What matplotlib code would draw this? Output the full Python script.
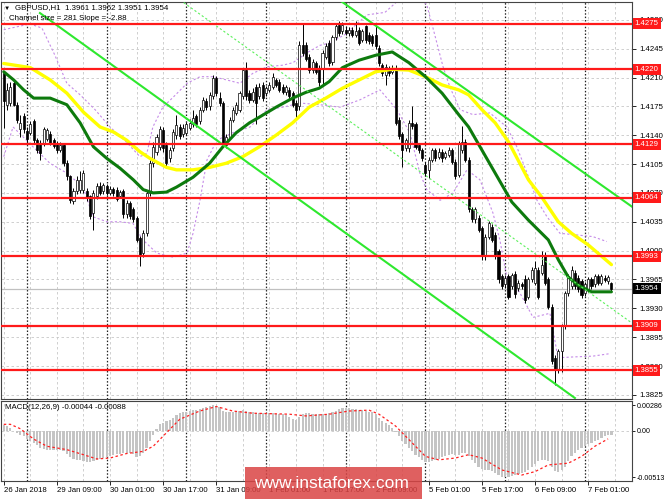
import matplotlib
matplotlib.use("Agg")
import matplotlib.pyplot as plt
from matplotlib.patches import Rectangle
import matplotlib.transforms as mtransforms

plt.rcParams['font.family'] = ['Liberation Sans', 'DejaVu Sans']

# ---------------- data (bar index = hour since 26 Jan 17:00, weekend skipped) ----------------
opens = [1.4215,1.4177,1.4179,1.4203,1.4177,1.4147,1.4163,1.4145,1.4143,1.4157,
         1.4134,1.4130,1.4130,1.4136,1.4141,1.4134,1.4130,1.4122,1.4128,1.4106,
         1.4090,1.4060,1.4072,1.4074,1.4074,1.4072,1.4066,1.4046,1.4066,1.4078,
         1.4072,1.4078,1.4070,1.4075,1.4074,1.4066,1.4072,1.4044,1.4058,1.4050,
         1.4040,1.4015,1.3997,1.4021,1.4070,1.4106,1.4120,1.4126,1.4146,1.4128,
         1.4112,1.4125,1.4140,1.4150,1.4141,1.4143,1.4149,1.4153,1.4163,1.4157,
         1.4171,1.4182,1.4175,1.4187,1.4209,1.4185,1.4179,1.4128,1.4138,1.4159,
         1.4167,1.4171,1.4187,1.4219,1.4191,1.4183,1.4199,1.4187,1.4201,1.4191,
         1.4195,1.4199,1.4207,1.4205,1.4199,1.4192,1.4195,1.4191,1.4179,1.4175,
         1.4250,1.4250,1.4235,1.4219,1.4227,1.4222,1.4221,1.4235,1.4252,1.4229,
         1.4259,1.4274,1.4266,1.4268,1.4264,1.4268,1.4262,1.4268,1.4256,1.4272,
         1.4262,1.4260,1.4262,1.4246,1.4225,1.4213,1.4221,1.4217,1.4222,1.4159,
         1.4141,1.4124,1.4124,1.4155,1.4153,1.4128,1.4122,1.4104,1.4098,1.4110,
         1.4122,1.4114,1.4120,1.4114,1.4116,1.4122,1.4108,1.4092,1.4122,1.4132,
         1.4110,1.4050,1.4038,1.4040,1.4027,1.3993,1.4017,1.4029,1.4019,1.3999,
         1.3969,1.3959,1.3969,1.3957,1.3972,1.3955,1.3959,1.3966,1.3944,1.3965,
         1.3961,1.3977,1.3973,1.3993,1.3965,1.3932,1.3870,1.3856,1.3878,1.3908,
         1.3948,1.3957,1.3973,1.3967,1.3963,1.3948,1.3953,1.3965,1.3959,1.3969,
         1.3961,1.3967,1.3963,1.3961]
highs = [1.4217,1.4203,1.4205,1.4207,1.4180,1.4165,1.4167,1.4150,1.4157,1.4160,
         1.4137,1.4134,1.4150,1.4149,1.4145,1.4137,1.4133,1.4132,1.4131,1.4110,
         1.4092,1.4076,1.4090,1.4096,1.4098,1.4076,1.4068,1.4073,1.4082,1.4083,
         1.4082,1.4081,1.4078,1.4077,1.4077,1.4074,1.4075,1.4061,1.4060,1.4053,
         1.4042,1.4018,1.4025,1.4073,1.4110,1.4132,1.4142,1.4151,1.4150,1.4132,
         1.4126,1.4147,1.4165,1.4154,1.4153,1.4156,1.4160,1.4171,1.4166,1.4174,
         1.4186,1.4185,1.4192,1.4213,1.4212,1.4192,1.4182,1.4141,1.4162,1.4174,
         1.4180,1.4194,1.4222,1.4229,1.4195,1.4197,1.4202,1.4203,1.4205,1.4200,
         1.4204,1.4215,1.4210,1.4208,1.4202,1.4201,1.4198,1.4194,1.4183,1.4254,
         1.4276,1.4253,1.4238,1.4233,1.4230,1.4225,1.4243,1.4252,1.4256,1.4262,
         1.4276,1.4278,1.4277,1.4272,1.4271,1.4271,1.4278,1.4271,1.4269,1.4274,
         1.4265,1.4263,1.4274,1.4249,1.4228,1.4226,1.4224,1.4225,1.4225,1.4162,
         1.4144,1.4137,1.4158,1.4175,1.4156,1.4131,1.4125,1.4107,1.4113,1.4125,
         1.4125,1.4124,1.4123,1.4121,1.4126,1.4125,1.4111,1.4133,1.4151,1.4135,
         1.4113,1.4053,1.4053,1.4043,1.4030,1.4020,1.4036,1.4032,1.4022,1.4002,
         1.3972,1.3971,1.3972,1.3973,1.3975,1.3964,1.3962,1.3970,1.3968,1.3980,
         1.3987,1.3980,1.3999,1.3998,1.3968,1.3935,1.3873,1.3881,1.3911,1.3951,
         1.3972,1.3981,1.3976,1.3970,1.3966,1.3962,1.3968,1.3968,1.3972,1.3972,
         1.3972,1.3971,1.3971,1.3962]
lows = [1.4149,1.4171,1.4175,1.4175,1.4155,1.4138,1.4143,1.4132,1.4140,1.4130,
        1.4119,1.4110,1.4127,1.4133,1.4128,1.4124,1.4118,1.4120,1.4103,1.4086,
        1.4058,1.4056,1.4069,1.4070,1.4070,1.4060,1.4038,1.4025,1.4063,1.4068,
        1.4069,1.4067,1.4068,1.4066,1.4060,1.4064,1.4040,1.4040,1.4038,1.4035,
        1.4010,1.3981,1.3992,1.4018,1.4066,1.4102,1.4116,1.4122,1.4120,1.4102,
        1.4108,1.4121,1.4136,1.4135,1.4138,1.4140,1.4146,1.4150,1.4150,1.4154,
        1.4168,1.4170,1.4171,1.4184,1.4187,1.4175,1.4127,1.4124,1.4135,1.4156,
        1.4164,1.4168,1.4184,1.4183,1.4179,1.4180,1.4153,1.4184,1.4182,1.4188,
        1.4192,1.4196,1.4198,1.4192,1.4190,1.4189,1.4184,1.4174,1.4160,1.4170,
        1.4236,1.4230,1.4216,1.4216,1.4214,1.4200,1.4202,1.4232,1.4224,1.4225,
        1.4256,1.4260,1.4263,1.4261,1.4260,1.4259,1.4259,1.4249,1.4253,1.4252,
        1.4251,1.4248,1.4245,1.4224,1.4212,1.4201,1.4212,1.4214,1.4152,1.4136,
        1.4102,1.4121,1.4120,1.4148,1.4123,1.4119,1.4109,1.4090,1.4088,1.4107,
        1.4109,1.4111,1.4108,1.4111,1.4113,1.4105,1.4087,1.4089,1.4119,1.4107,
        1.4047,1.4035,1.4034,1.4022,1.3989,1.3989,1.4014,1.4010,1.3990,1.3961,
        1.3953,1.3955,1.3941,1.3953,1.3942,1.3951,1.3954,1.3937,1.3941,1.3962,
        1.3958,1.3941,1.3970,1.3958,1.3929,1.3862,1.3837,1.3852,1.3853,1.3905,
        1.3945,1.3953,1.3954,1.3950,1.3943,1.3945,1.3950,1.3954,1.3956,1.3958,
        1.3958,1.3962,1.3960,1.3951]
closes = [1.4181,1.4195,1.4199,1.4177,1.4159,1.4155,1.4147,1.4136,1.4153,1.4134,
          1.4122,1.4118,1.4147,1.4146,1.4131,1.4127,1.4122,1.4128,1.4106,1.4090,
          1.4062,1.4072,1.4086,1.4086,1.4094,1.4064,1.4042,1.4070,1.4078,1.4070,
          1.4079,1.4070,1.4075,1.4070,1.4063,1.4071,1.4044,1.4058,1.4042,1.4038,
          1.4013,1.3993,1.4021,1.4070,1.4106,1.4126,1.4138,1.4148,1.4125,1.4106,
          1.4122,1.4144,1.4152,1.4139,1.4149,1.4153,1.4155,1.4161,1.4153,1.4171,
          1.4183,1.4174,1.4189,1.4209,1.4191,1.4179,1.4130,1.4138,1.4159,1.4171,
          1.4177,1.4191,1.4219,1.4187,1.4183,1.4193,1.4179,1.4199,1.4185,1.4197,
          1.4201,1.4211,1.4201,1.4195,1.4193,1.4198,1.4187,1.4177,1.4171,1.4250,
          1.4240,1.4233,1.4219,1.4229,1.4217,1.4205,1.4240,1.4248,1.4227,1.4259,
          1.4272,1.4264,1.4274,1.4264,1.4268,1.4262,1.4266,1.4252,1.4266,1.4256,
          1.4254,1.4252,1.4248,1.4227,1.4215,1.4223,1.4215,1.4222,1.4155,1.4139,
          1.4122,1.4134,1.4155,1.4151,1.4126,1.4122,1.4112,1.4094,1.4110,1.4122,
          1.4112,1.4120,1.4112,1.4118,1.4122,1.4108,1.4090,1.4130,1.4132,1.4110,
          1.4050,1.4038,1.4050,1.4025,1.3993,1.4017,1.4033,1.4013,1.3993,1.3965,
          1.3957,1.3967,1.3944,1.3970,1.3947,1.3961,1.3957,1.3940,1.3965,1.3977,
          1.3979,1.3944,1.3983,1.3961,1.3932,1.3866,1.3856,1.3878,1.3908,1.3948,
          1.3969,1.3977,1.3957,1.3953,1.3946,1.3959,1.3965,1.3957,1.3969,1.3961,
          1.3969,1.3964,1.3968,1.3954]

# moving averages (read points)
ma_slow_idx = [0, 8, 14, 19, 24, 29, 33, 37, 41, 44, 49, 52, 57, 62, 67, 72, 77, 82, 87, 92,
               97, 102, 107, 112, 117, 122, 127, 132, 137, 140, 144, 148, 152, 158, 162, 167,
               171, 176, 183]
ma_slow = [1.4227, 1.4222, 1.4207, 1.4191, 1.4168, 1.4150, 1.4144, 1.4134, 1.4120, 1.4112,
           1.4101, 1.4098, 1.4098, 1.4101, 1.4106, 1.4114, 1.4126, 1.4140, 1.4155, 1.4174,
           1.4185, 1.4197, 1.4207, 1.4217, 1.4220, 1.4219, 1.4211, 1.4201, 1.4195, 1.4189,
           1.4171, 1.4155, 1.4132, 1.4086, 1.4065, 1.4035, 1.4021, 1.4007, 1.3983]
ma_fast_idx = [0, 3, 6, 9, 14, 19, 23, 27, 31, 35, 39, 42, 45, 49, 52, 57, 62, 66, 70, 74,
               77, 82, 87, 91, 95, 98, 102, 107, 112, 117, 122, 127, 132, 137, 140, 144,
               148, 153, 158, 164, 167, 170, 173, 177, 183]
ma_fast = [1.4217, 1.4207, 1.4195, 1.4185, 1.4185, 1.4177, 1.4155, 1.4126, 1.4112, 1.4100,
           1.4086, 1.4074, 1.4070, 1.4071, 1.4077, 1.4089, 1.4106, 1.4126, 1.4143, 1.4155,
           1.4162, 1.4174, 1.4185, 1.4192, 1.4197, 1.4205, 1.4222, 1.4231, 1.4237, 1.4241,
           1.4228, 1.4211, 1.4191, 1.4165, 1.4150, 1.4122, 1.4094, 1.4059, 1.4037, 1.4013,
           1.3989, 1.3968, 1.3958, 1.3950, 1.3950]

# bands (read points)
band_up_idx = [0, 3.4, 7.9, 11.5, 15.4, 19, 23, 27.5, 32, 37.1, 41, 43.1, 44.9, 47.9, 51, 55.2,
               59.1, 63, 67.2, 71.1, 75, 79.3, 84.1, 87.1, 91.3, 95.2, 98.2, 102.7, 109.4,
               114.8, 118.4, 122.9, 127.4, 129.2, 132.3, 134.4, 137.4, 141.3, 146.4, 151.5,
               154.5, 157.6, 160.6, 163.6, 167.5, 172.6, 177.4, 181.6]
band_up = [1.4268, 1.4271, 1.4275, 1.4270, 1.4237, 1.4203, 1.4189, 1.4171, 1.4150, 1.4131,
           1.4114, 1.4118, 1.4150, 1.4174, 1.4186, 1.4203, 1.4211, 1.4211, 1.4207, 1.4203,
           1.4215, 1.4223, 1.4225, 1.4228, 1.4240, 1.4249, 1.4252, 1.4262, 1.4286, 1.4289,
           1.4302, 1.4319, 1.4298, 1.4271, 1.4223, 1.4198, 1.4171, 1.4165, 1.4167, 1.4150,
           1.4126, 1.4094, 1.4061, 1.4041, 1.4021, 1.4019, 1.4017, 1.4011]
band_lo_idx = [0, 2.8, 8.8, 13.9, 19, 23.9, 26.9, 31.1, 35, 38.9, 41.9, 46.1, 51, 55.2, 57,
               59.1, 61.2, 64.2, 69, 74.2, 79.3, 84.1, 89.2, 95.2, 101.3, 107.3, 113.3, 118.4,
               122.3, 125.3, 127.4, 131.4, 135.3, 139.5, 143.4, 147.3, 149.4, 151.5, 155.4,
               159.4, 164.5, 166.9, 171.4, 177.4, 182.5]
band_lo = [1.4114, 1.4150, 1.4126, 1.4106, 1.4094, 1.4077, 1.4041, 1.4035, 1.4035, 1.4033,
           1.4013, 1.3997, 1.3992, 1.3997, 1.4021, 1.4061, 1.4110, 1.4134, 1.4143, 1.4150,
           1.4171, 1.4174, 1.4179, 1.4177, 1.4174, 1.4183, 1.4195, 1.4171, 1.4143, 1.4094,
           1.4074, 1.4061, 1.4070, 1.4098, 1.4086, 1.4046, 1.4013, 1.3968, 1.3949, 1.3919,
           1.3924, 1.3870, 1.3871, 1.3872, 1.3875]

# equidistant channel (anchor bar, price)
chan_lower_idx = [10.9, 172.0]
chan_lower = [1.42882, 1.38212]
chan_upper_idx = [101.8, 189.2]
chan_upper = [1.43020, 1.40533]
chan_mid_idx = [53.1, 189.2]
chan_mid = [1.43040, 1.39121]

levels = [1.4275, 1.4220, 1.4129, 1.4064, 1.3993, 1.3909, 1.3855]
last_price = 1.3954
price_ticks = [1.3825, 1.3860, 1.3895, 1.3930, 1.3965, 1.4000, 1.4035, 1.4070,
               1.4105, 1.4140, 1.4175, 1.4210, 1.4245, 1.4280]

macd_hist = [0.0006, 0.00054, 0.00036, 0.0, -0.0002, -0.0004, -0.0006, -0.0009, -0.00114, -0.00133,
             -0.0016, -0.0019, -0.0020, -0.00207, -0.00207, -0.00207, -0.00207, -0.00215, -0.00226, -0.0025,
             -0.0029, -0.0031, -0.0032, -0.00327, -0.00338, -0.0034, -0.0034, -0.0033, -0.0032, -0.0031,
             -0.0030, -0.0029, -0.00275, -0.00263, -0.00256, -0.0025, -0.00245, -0.00245, -0.00245, -0.0025,
             -0.0029, -0.00275, -0.00245, -0.0019, -0.00114, -0.0004, 0.00024, 0.00073, 0.00092, 0.0011,
             0.0012, 0.00148, 0.00174, 0.00196, 0.00204, 0.0021, 0.0022, 0.0023, 0.00234, 0.00241,
             0.0025, 0.0026, 0.00278, 0.00286, 0.00278, 0.0026, 0.0022, 0.00204, 0.00204, 0.0021,
             0.00215, 0.00219, 0.00226, 0.00219, 0.0021, 0.00204, 0.00196, 0.00196, 0.00196, 0.00196,
             0.00196, 0.00196, 0.00192, 0.00189, 0.00185, 0.00174, 0.00159, 0.00136, 0.0012, 0.00159,
             0.00185, 0.00196, 0.00196, 0.00192, 0.00189, 0.00185, 0.00189, 0.00192, 0.00196, 0.00204,
             0.0022, 0.0024, 0.0025, 0.0025, 0.0025, 0.0024, 0.0024, 0.00234, 0.00226, 0.0022,
             0.0021, 0.00204, 0.00185, 0.00148, 0.0011, 0.00084, 0.00062, 0.00036, -0.0001, -0.00058,
             -0.00114, -0.0015, -0.0019, -0.00226, -0.00263, -0.0029, -0.0032, -0.0034, -0.0034, -0.00338,
             -0.00327, -0.0031, -0.0029, -0.00275, -0.00263, -0.0025, -0.00263, -0.00263, -0.00245, -0.00245,
             -0.00275, -0.0032, -0.00357, -0.00394, -0.00424, -0.00432, -0.00432, -0.0044, -0.0046, -0.00488,
             -0.00506, -0.00513, -0.00506, -0.005, -0.00488, -0.00476, -0.0046, -0.0045, -0.00432, -0.00394,
             -0.00364, -0.00338, -0.00327, -0.0032, -0.00338, -0.00394, -0.0044, -0.0045, -0.00432, -0.00394,
             -0.00338, -0.00282, -0.00245, -0.00215, -0.0019, -0.0017, -0.0015, -0.00133, -0.00114, -0.00095,
             -0.00077, -0.00058, -0.0005, -0.00044]
signal_idx = [0, 2, 5, 9, 13, 19, 24, 28, 32, 37, 42, 45, 49, 53, 59, 64, 69, 75, 86, 91, 98,
              104, 110, 113, 118, 122, 127, 131, 136, 140, 144, 150, 156, 160, 164, 170, 174,
              178, 182]
signal = [0.00073, 0.00073, 0.00024, -0.0009, -0.0017, -0.00207, -0.00263, -0.0031, -0.0030,
          -0.0025, -0.00226, -0.0017, -0.0002, 0.00129, 0.0022, 0.0027, 0.0022, 0.00196, 0.00185,
          0.00166, 0.00185, 0.0022, 0.0023, 0.00185, 0.00054, -0.00095, -0.00282, -0.0032, -0.0030,
          -0.00263, -0.0030, -0.00432, -0.00488, -0.0045, -0.00376, -0.00357, -0.00282, -0.0017,
          -0.00088]

time_tick_idx = [0, 16, 32, 48, 64, 80, 96, 112, 128, 144, 160, 176]
time_labels = ['26 Jan 2018', '29 Jan 09:00', '30 Jan 01:00', '30 Jan 17:00', '31 Jan 09:00',
               '1 Feb 01:00', '1 Feb 17:00', '2 Feb 09:00', '5 Feb 01:00', '5 Feb 17:00',
               '6 Feb 09:00', '7 Feb 01:00']
day_start_idx = [7, 31, 55, 79, 103, 127, 151, 175]

# ---------------- figure ----------------
W, H = 665, 499
fig = plt.figure(figsize=(W / 100, H / 100), dpi=100)
fig.patch.set_facecolor('white')

def fx(px):
    return px / W

def fy(py):
    return 1 - py / H

ax = fig.add_axes([fx(1), fy(399), fx(632) - fx(1), fy(2) - fy(399)])
ax2 = fig.add_axes([fx(1), fy(481), fx(632) - fx(1), fy(401) - fy(481)], sharex=ax)

n = len(closes)
idx = list(range(n))
XMIN, XMAX = -0.83, 189.2
ax.set_xlim(XMIN, XMAX)
ax.set_ylim(1.38200, 1.43016)
ax2.set_ylim(-0.00554, 0.00331)

fs = 5.6
grid_col = '#c8c8c8'
for a in (ax, ax2):
    for s in a.spines.values():
        s.set_color('#444444')
        s.set_linewidth(0.8)
    for g in range(0, 190, 8):
        a.axvline(g, color=grid_col, lw=0.6, ls=(0, (3, 3)), zorder=0.5)
    for d in day_start_idx:
        a.axvline(d, color='#222222', lw=0.9, ls=(0, (1.2, 1.5)), zorder=0.6)

# main price grid
for p in price_ticks:
    ax.axhline(p, color=grid_col, lw=0.6, ls=(0, (3, 3)), zorder=0.5)
ax.axhline(last_price, color='#c0c0c0', lw=0.9, zorder=0.7)

# bands
ax.plot(band_up_idx, band_up, color='#c58be8', lw=0.8, ls=(0, (2, 2)), zorder=1)
ax.plot(band_lo_idx, band_lo, color='#c58be8', lw=0.8, ls=(0, (2, 2)), zorder=1)

# candles
for i in idx:
    o, h, l, c = opens[i], highs[i], lows[i], closes[i]
    ax.vlines(i, l, h, color='black', lw=0.7, zorder=3)
    bull = c >= o
    bottom = min(o, c)
    height = max(abs(c - o), 0.00004)
    ax.bar(i, height, bottom=bottom, width=0.62,
           color='white' if bull else 'black', edgecolor='black', linewidth=0.5, zorder=3.2)

# moving averages
ax.plot(ma_slow_idx, ma_slow, color='#ffff00', lw=2.4, zorder=4, solid_capstyle='round')
ax.plot(ma_fast_idx, ma_fast, color='#0d7a0d', lw=2.2, zorder=4.1, solid_capstyle='round')

# channel
ax.plot(chan_lower_idx, chan_lower, color='#2ee82e', lw=1.5, zorder=4.5)
ax.plot(chan_upper_idx, chan_upper, color='#2ee82e', lw=1.5, zorder=4.5)
ax.plot(chan_mid_idx, chan_mid, color='#5cf05c', lw=0.8, ls=(0, (2, 2)), zorder=4.5)

# horizontal levels
for lv in levels:
    ax.axhline(lv, color='#ff1a1a', lw=1.6, zorder=5)

# y axis (right)
ax.yaxis.tick_right()
ax.set_yticks(price_ticks)
ax.set_yticklabels(['%.4f' % p for p in price_ticks])
ax.tick_params(axis='y', length=3, width=0.6, pad=2, labelsize=fs, colors='black')
ax.tick_params(axis='x', bottom=False, labelbottom=False)

trans = mtransforms.blended_transform_factory(ax.transAxes, ax.transData)
for lv in levels:
    ax.text(1.0045, lv, '%.4f' % lv, transform=trans, fontsize=fs, color='white',
            va='center', ha='left', zorder=10, clip_on=False,
            bbox=dict(boxstyle='square,pad=0.25', fc='#ff1a1a', ec='none'))
ax.text(1.0045, last_price, '%.4f' % last_price, transform=trans, fontsize=fs, color='white',
        va='center', ha='left', zorder=10, clip_on=False,
        bbox=dict(boxstyle='square,pad=0.25', fc='black', ec='none'))

# MACD pane
ax2.axhline(0, color=grid_col, lw=0.6, ls=(0, (3, 3)), zorder=0.5)
ax2.bar(idx, macd_hist, width=0.66, color='#c4c4c4', zorder=2)
ax2.plot(signal_idx, signal, color='#ff2020', lw=0.9, ls=(0, (2, 2)), zorder=3)
ax2.yaxis.tick_right()
ax2.set_yticks([0.00286, 0.0, -0.00513])
ax2.set_yticklabels(['0.00286', '0.00', '-0.00513'])
ax2.tick_params(axis='y', length=2.5, width=0.6, pad=1.0, labelsize=5.1)
ax2.set_xticks(time_tick_idx)
ax2.set_xticklabels(time_labels, ha='left')
ax2.tick_params(axis='x', length=3, width=0.6, pad=1.5, labelsize=fs)

# texts
fig.text(fx(4), fy(8), '\u25BC', fontsize=4.5, va='center', ha='left', color='black')
fig.text(fx(15), fy(8), 'GBPUSD,H1  1.3961 1.3962 1.3951 1.3954', fontsize=5.7,
         va='center', ha='left', color='black')
fig.text(fx(9), fy(19), 'Channel size = 281 Slope = -2.88', fontsize=5.7,
         va='center', ha='left', color='black')
fig.text(fx(5), fy(407.5), 'MACD(12,26,9) -0.00044 -0.00088', fontsize=5.7,
         va='center', ha='left', color='black')

# watermark
fig.add_artist(Rectangle((fx(245), fy(499)), fx(422) - fx(245), fy(467) - fy(499),
                         transform=fig.transFigure, fc='#da4444', ec='none', alpha=0.85, zorder=20))
fig.text(fx(331), fy(483), 'www.instaforex.com', fontsize=12.5, color='white',
         ha='center', va='center', zorder=21)

fig.savefig('out.png', dpi=100)
